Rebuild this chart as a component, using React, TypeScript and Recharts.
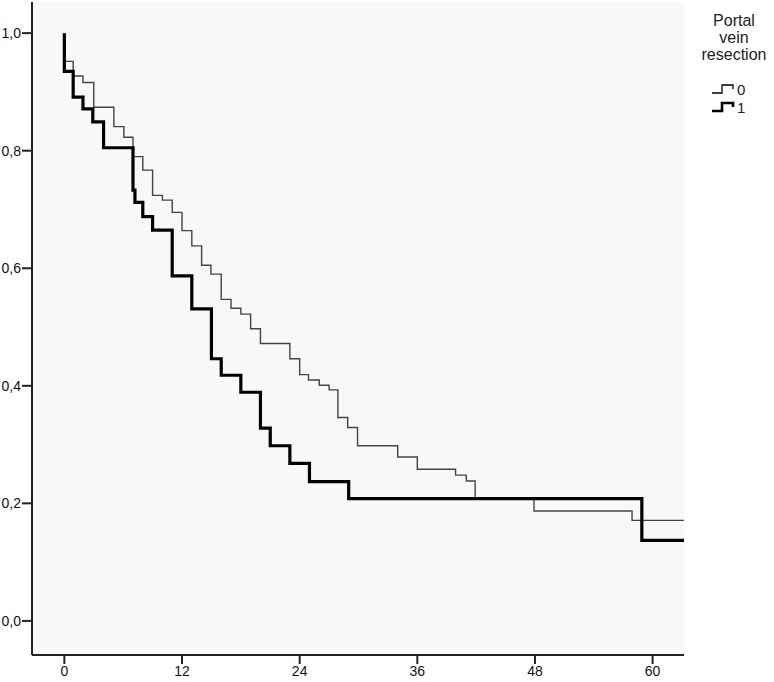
import { LineChart, Line, XAxis, YAxis, CartesianGrid } from "recharts";

// months since surgery / cumulative survival
const group0Times = [0, 0, 0.9, 1.9, 3.0, 5.05, 6.07, 7.0, 8.0, 9.0, 10, 11, 12, 13, 14, 14.95, 16, 17, 18, 19, 20, 23, 24, 24.9, 26, 27, 27.9, 28.9, 29.9, 34, 36, 39.9, 41, 41.9, 47.9, 57.9, 63.2];
const group0Surv = [1.0, 0.952, 0.927, 0.916, 0.874, 0.841, 0.823, 0.79, 0.767, 0.724, 0.716, 0.695, 0.664, 0.638, 0.605, 0.59, 0.547, 0.532, 0.522, 0.497, 0.472, 0.446, 0.419, 0.41, 0.401, 0.393, 0.346, 0.329, 0.298, 0.279, 0.258, 0.248, 0.238, 0.208, 0.187, 0.171, 0.171];

const group1Times = [0, 0, 0.9, 1.9, 2.9, 4.0, 7.0, 7.2, 8.0, 9.0, 11, 13, 15, 16, 18, 20, 21, 23, 25, 29, 58.9, 63.2];
const group1Surv = [1.0, 0.935, 0.891, 0.871, 0.849, 0.805, 0.733, 0.712, 0.688, 0.665, 0.587, 0.531, 0.446, 0.418, 0.389, 0.328, 0.298, 0.268, 0.237, 0.208, 0.137, 0.137];

const xTicks = [0, 12, 24, 36, 48, 60];
const yTicks = [0, 0.2, 0.4, 0.6, 0.8, 1.0];
const legendTitle = ["Portal", "vein", "resection"];
const legendItems = ["0", "1"];

const toRows = (times: number[], surv: number[]) => times.map((t, i) => ({ t, s: surv[i] }));
const group0 = toRows(group0Times, group0Surv);
const group1 = toRows(group1Times, group1Surv);

const FONT = "'Liberation Sans', Arial, sans-serif";
const FRAME = "#222";

export default function App() {
  return (
    <div style={{ position: "absolute", left: 0, top: 0, width: 774, height: 682, background: "#fff" }}>
      <LineChart width={774} height={682} margin={{ top: 2, right: 90, bottom: 0, left: 0 }}>
        <CartesianGrid fill="#f8f8f8" horizontal={false} vertical={false} />
        <XAxis
          type="number"
          dataKey="t"
          domain={[-3.3, 63.2]}
          ticks={xTicks}
          allowDataOverflow
          height={27}
          tickSize={9}
          tickMargin={2}
          axisLine={{ stroke: FRAME, strokeWidth: 2 }}
          tickLine={{ stroke: FRAME, strokeWidth: 2 }}
          tick={{ fill: "#111", fontSize: 14, fontFamily: FONT }}
        />
        <XAxis xAxisId="top" orientation="top" type="number" dataKey="t" domain={[-3.3, 63.2]} height={0} tick={false} tickLine={false} axisLine={{ stroke: FRAME, strokeWidth: 2 }} />
        <YAxis
          type="number"
          domain={[-0.058, 1.053]}
          ticks={yTicks}
          allowDataOverflow
          width={32}
          tickSize={10}
          tickMargin={1}
          tickFormatter={(v: number) => v.toFixed(1).replace(".", ",")}
          axisLine={{ stroke: FRAME, strokeWidth: 2 }}
          tickLine={{ stroke: FRAME, strokeWidth: 2 }}
          tick={{ fill: "#111", fontSize: 14, fontFamily: FONT }}
        />
        <YAxis yAxisId="right" orientation="right" domain={[-0.058, 1.053]} width={0} tick={false} tickLine={false} axisLine={{ stroke: FRAME, strokeWidth: 2 }} />
        <Line data={group0} dataKey="s" type="stepAfter" stroke="#444" strokeWidth={1.4} dot={false} isAnimationActive={false} />
        <Line data={group1} dataKey="s" type="stepAfter" stroke="#000" strokeWidth={3.2} dot={false} isAnimationActive={false} />
      </LineChart>

      <div style={{ position: "absolute", left: 694, top: 12, width: 80, fontFamily: FONT, fontSize: 16, color: "#222", textAlign: "center", lineHeight: "17px" }}>
        {legendTitle.map((w) => (
          <div key={w}>{w}</div>
        ))}
      </div>
      <div style={{ position: "absolute", left: 712, top: 80, fontFamily: FONT, fontSize: 15, color: "#222" }}>
        {legendItems.map((label, i) => (
          <div key={label} style={{ display: "flex", alignItems: "center", height: 18 }}>
            <svg width={24} height={12}>
              <polyline points="0,10 10,10 10,2 21,2 21,6" fill="none" stroke="#000" strokeWidth={i === 0 ? 1.3 : 2.6} />
            </svg>
            <span style={{ marginLeft: 1 }}>{label}</span>
          </div>
        ))}
      </div>
    </div>
  );
}
